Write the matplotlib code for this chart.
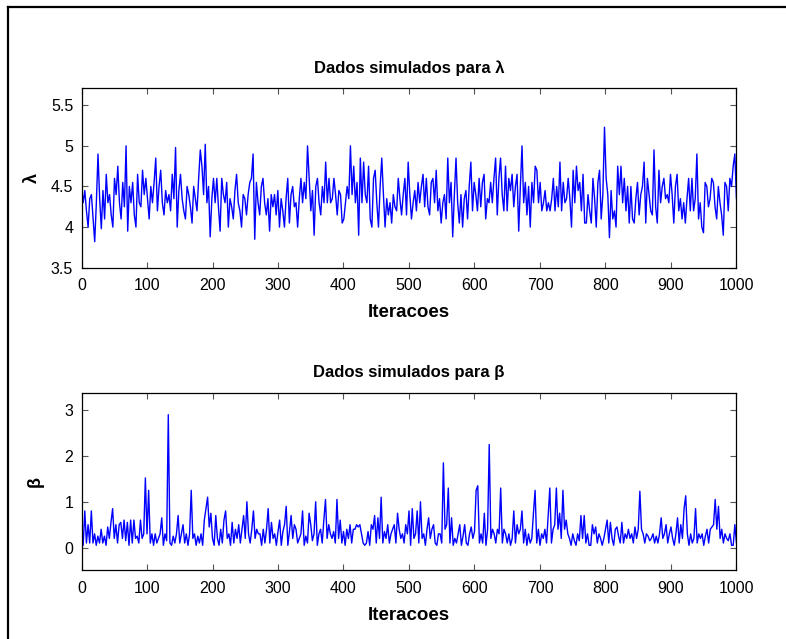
import numpy as np
import matplotlib
matplotlib.use("Agg")
import matplotlib.pyplot as plt
from matplotlib.lines import Line2D

plt.rcParams['font.family'] = ['Liberation Sans', 'DejaVu Sans']

# cadeia de lambda (quatro blocos de ~250 iteracoes)
lam_a = [4.5, 4.3, 4.45, 4.2, 4.0, 4.35, 4.4, 4.1, 3.82, 4.3, 4.9, 4.35, 3.98, 4.45, 4.1, 4.65, 4.3, 4.4, 4.15, 4.0,
         4.6, 4.4, 4.75, 4.3, 4.1, 4.55, 4.25, 5.0, 3.95, 4.5, 4.3, 4.55, 4.15, 4.0, 4.65, 4.3, 4.25, 4.7, 4.4, 4.6,
         4.35, 4.1, 4.5, 4.3, 4.55, 4.85, 4.2, 4.5, 4.7, 4.3, 4.15, 4.45, 4.3, 4.4, 4.2, 4.65, 4.35, 4.98, 4.0, 4.45,
         4.65, 4.35, 4.2, 4.1, 4.5, 4.4, 4.25, 4.05, 4.5, 4.35, 4.2, 4.6, 4.95, 4.75, 4.4, 5.02, 4.3, 4.5, 3.88, 4.35,
         4.6, 4.3, 4.6, 4.25, 3.95, 4.6, 4.4, 4.3, 4.55, 4.0, 4.35, 4.25, 4.1, 4.45, 4.65, 4.3, 4.2, 4.0, 4.4, 4.35,
         4.15, 4.4, 4.55]
lam_b = [4.6, 4.9, 3.85, 4.55, 4.3, 4.15, 4.5, 4.6, 4.3, 4.15, 4.35, 3.95, 4.4, 4.25, 4.4, 4.15, 4.45, 4.0, 4.35, 4.2,
         4.0, 4.35, 4.6, 4.05, 4.4, 4.5, 4.25, 4.3, 4.0, 4.35, 4.6, 4.3, 4.55, 4.35, 5.0, 4.6, 4.2, 4.45, 3.9, 4.5,
         4.6, 4.3, 4.15, 4.5, 4.3, 4.8, 4.3, 4.6, 4.3, 4.35, 4.6, 4.4, 4.15, 4.45, 4.4, 4.05, 4.1, 4.3, 4.5, 4.35,
         5.0, 4.4, 4.75, 4.3, 4.55, 3.9, 4.85, 4.3, 4.8, 4.4, 4.3, 4.75, 4.1, 4.0, 4.6, 4.7, 4.3, 4.0, 4.5, 4.85,
         4.4, 4.0, 4.35, 4.15, 4.3, 4.05, 4.4, 4.25, 4.2, 4.6, 4.35, 4.15, 4.4, 4.6, 4.15, 4.8, 4.4, 4.1]
lam_c = [4.3, 4.45, 4.2, 4.55, 4.3, 4.5, 4.65, 4.25, 4.6, 4.25, 4.15, 4.55, 4.6, 4.3, 4.7, 4.2, 4.35, 4.05, 4.3, 4.4,
         4.1, 4.85, 4.3, 4.55, 3.88, 4.4, 4.85, 4.3, 4.05, 4.4, 4.0, 4.35, 4.45, 4.1, 4.5, 4.8, 4.2, 4.55, 4.4, 4.2,
         4.6, 4.25, 4.55, 4.65, 4.1, 4.35, 4.3, 4.55, 4.3, 4.6, 4.85, 4.15, 4.6, 4.85, 4.4, 4.2, 4.75, 4.2, 4.6, 4.45,
         4.65, 4.25, 4.5, 4.65, 3.95, 4.5, 5.0, 4.3, 4.55, 4.15, 4.5, 4.0, 4.55, 4.3, 4.75, 4.7, 4.3, 4.55, 4.2, 4.3,
         4.45, 4.2, 4.3, 4.2, 4.35, 4.6, 4.2, 4.5, 4.25, 4.8, 4.2, 4.55, 4.3, 4.35, 4.6, 4.35, 4.0, 4.7, 4.3]
lam_d = [4.75, 4.45, 4.55, 4.2, 4.65, 4.05, 4.05, 4.4, 4.2, 4.05, 4.6, 4.35, 4.0, 4.55, 4.7, 4.1, 4.4, 5.23, 4.6, 4.4,
         3.87, 4.45, 4.1, 4.2, 4.0, 4.75, 4.4, 4.75, 4.3, 4.6, 4.2, 4.5, 4.05, 4.5, 4.1, 4.05, 4.35, 4.55, 4.15, 4.4,
         4.5, 4.8, 4.05, 4.6, 4.4, 4.2, 4.15, 4.95, 4.25, 4.05, 4.7, 4.3, 4.5, 4.6, 4.35, 4.4, 4.3, 4.65, 4.4, 4.05,
         4.5, 4.65, 4.2, 4.35, 4.1, 4.3, 4.05, 4.35, 4.6, 4.2, 4.6, 4.2, 4.35, 4.9, 4.1, 4.3, 4.0, 3.93, 4.55, 4.5,
         4.25, 4.35, 4.6, 4.55, 4.25, 4.1, 4.5, 4.3, 4.15, 3.9, 4.55, 4.5, 4.2, 4.6, 4.5, 4.75, 4.9, 4.35]

# cadeia de beta
beta_a = [0.5, 0.05, 0.8, 0.1, 0.5, 0.1, 0.8, 0.1, 0.3, 0.05, 0.25, 0.1, 0.4, 0.1, 0.25, 0.05, 0.45, 0.2, 0.55, 0.85,
          0.2, 0.5, 0.1, 0.5, 0.55, 0.2, 0.6, 0.15, 0.55, 0.05, 0.6, 0.1, 0.6, 0.2, 0.25, 0.1, 0.6, 0.2, 0.3, 1.52,
          0.3, 1.25, 0.1, 0.3, 0.05, 0.3, 0.1, 0.2, 0.3, 0.65, 0.05, 0.3, 0.15, 2.9, 0.1, 0.05, 0.25, 0.1, 0.3, 0.7,
          0.1, 0.3, 0.5, 0.1, 0.3, 0.05, 0.3, 1.25, 0.2, 0.3, 0.05, 0.25, 0.1, 0.3, 0.05, 0.6, 0.85, 1.1, 0.45, 0.75,
          0.2, 0.05, 0.7, 0.2, 0.05, 0.4, 0.1, 0.6, 0.8, 0.2, 0.3, 0.05, 0.55, 0.1, 0.4, 0.2, 0.5, 0.1, 0.4, 0.7,
          0.2, 1.0, 0.3]
beta_b = [0.1, 0.4, 0.8, 0.2, 0.4, 0.3, 0.3, 0.05, 0.4, 0.1, 0.4, 0.85, 0.1, 0.55, 0.2, 0.3, 0.05, 0.35, 0.6, 0.05,
          0.35, 0.5, 0.9, 0.05, 0.35, 0.7, 0.2, 0.5, 0.4, 0.1, 0.2, 0.3, 0.8, 0.05, 0.25, 0.1, 0.75, 0.5, 0.15, 0.3,
          1.0, 0.05, 0.3, 0.4, 0.1, 0.6, 1.05, 0.2, 0.5, 0.3, 0.2, 0.35, 0.1, 1.05, 0.2, 0.6, 0.1, 0.35, 0.05, 0.4,
          0.2, 0.5, 0.1, 0.4, 0.4, 0.5, 0.45, 0.5, 0.3, 0.1, 0.05, 0.1, 0.35, 0.05, 0.5, 0.4, 0.7, 0.1, 0.65, 0.2,
          1.1, 0.1, 0.35, 0.2, 0.5, 0.1, 0.3, 0.4, 0.5, 0.1, 0.75, 0.4, 0.2, 0.3, 0.1, 0.5, 0.3]
beta_c = [0.8, 0.05, 0.85, 0.2, 0.3, 0.8, 0.1, 1.0, 0.2, 0.3, 0.05, 0.4, 0.65, 0.2, 0.4, 0.5, 0.1, 0.05, 0.3, 0.3,
          0.1, 1.85, 0.4, 0.5, 1.3, 0.1, 0.65, 0.05, 0.2, 0.1, 0.3, 0.5, 0.05, 0.25, 0.5, 0.1, 0.05, 0.3, 0.45, 0.2,
          0.35, 1.25, 1.35, 0.1, 0.3, 0.1, 0.75, 0.05, 0.4, 2.25, 0.2, 0.4, 0.3, 0.1, 0.4, 0.3, 1.3, 0.1, 0.4, 0.3,
          0.1, 0.3, 0.05, 0.2, 0.8, 0.1, 0.5, 0.3, 0.4, 0.8, 0.1, 0.4, 0.05, 0.3, 0.1, 0.2, 0.75, 1.25, 0.1, 0.4,
          0.05, 0.3, 0.2, 0.4, 0.1, 0.7, 1.3, 0.1, 0.4, 0.5, 1.3, 0.4, 0.75, 0.2, 1.25, 0.4, 0.6, 0.3, 0.2]
beta_d = [0.05, 0.3, 0.15, 0.05, 0.3, 0.15, 0.7, 0.2, 0.7, 0.1, 0.3, 0.05, 0.05, 0.5, 0.3, 0.45, 0.1, 0.3, 0.2, 0.05,
          0.2, 0.4, 0.6, 0.1, 0.55, 0.2, 0.05, 0.4, 0.45, 0.25, 0.1, 0.55, 0.1, 0.3, 0.2, 0.4, 0.2, 0.3, 0.1, 0.45,
          0.2, 0.4, 1.23, 0.4, 0.3, 0.1, 0.3, 0.25, 0.15, 0.2, 0.3, 0.1, 0.25, 0.1, 0.3, 0.65, 0.2, 0.3, 0.5, 0.1,
          0.3, 0.45, 0.2, 0.05, 0.3, 0.65, 0.1, 0.5, 0.2, 0.85, 1.13, 0.3, 0.05, 0.3, 0.1, 0.2, 0.85, 0.1, 0.3, 0.2,
          0.3, 0.05, 0.25, 0.4, 0.1, 0.4, 0.45, 0.5, 1.05, 0.4, 0.9, 0.2, 0.4, 0.1, 0.3, 0.2, 0.15, 0.3, 0.05, 0.05,
          0.5, 0.1]

lam = np.array(lam_a + lam_b + lam_c + lam_d)
beta = np.array(beta_a + beta_b + beta_c + beta_d)
it_lam = np.linspace(0, 1000, len(lam))
it_beta = np.linspace(0, 1000, len(beta))

xticks = np.arange(0, 1001, 100)

fig = plt.figure(figsize=(7.86, 6.39), dpi=100)

ax1 = fig.add_axes([0.1037, 0.5811, 0.8333, 0.2808])
ax1.plot(it_lam, lam, color='blue', lw=1.0)
ax1.set_xlim(0, 1000)
ax1.set_ylim(3.5, 5.71)
ax1.set_yticks([3.5, 4, 4.5, 5, 5.5])
ax1.set_yticklabels(['3.5', '4', '4.5', '5', '5.5'])
ax1.set_title('Dados simulados para λ', fontsize=12, fontweight='bold', pad=11)
ax1.set_ylabel('λ', fontsize=13, fontweight='bold', labelpad=7)
ax1.set_xlabel('Iteracoes', fontsize=13.5, fontweight='bold', labelpad=8)

ax2 = fig.add_axes([0.1037, 0.1072, 0.8333, 0.2782])
ax2.plot(it_beta, beta, color='blue', lw=1.0)
ax2.set_xlim(0, 1000)
ax2.set_ylim(-0.5, 3.38)
ax2.set_yticks([0, 1, 2, 3])
ax2.set_title('Dados simulados para β', fontsize=12, fontweight='bold', pad=11)
ax2.set_ylabel('β', fontsize=13, fontweight='bold', labelpad=15)
ax2.set_xlabel('Iteracoes', fontsize=13.5, fontweight='bold', labelpad=8)

for ax in (ax1, ax2):
    ax.set_xticks(xticks)
    ax.tick_params(direction='in', top=True, right=True, length=4.5, width=0.8,
                   labelsize=11.5, pad=6, color='#555555')
    ax.tick_params(axis='x', pad=7.5)
    for s in ax.spines.values():
        s.set_linewidth(0.9)

# moldura do documento (esquerda e topo)
fig.add_artist(Line2D([8 / 786, 8 / 786], [0, 1 - 7 / 639], color='black', lw=1.6))
fig.add_artist(Line2D([8 / 786, 1], [1 - 7 / 639, 1 - 7 / 639], color='black', lw=1.6))

fig.savefig('out.png', dpi=100)
